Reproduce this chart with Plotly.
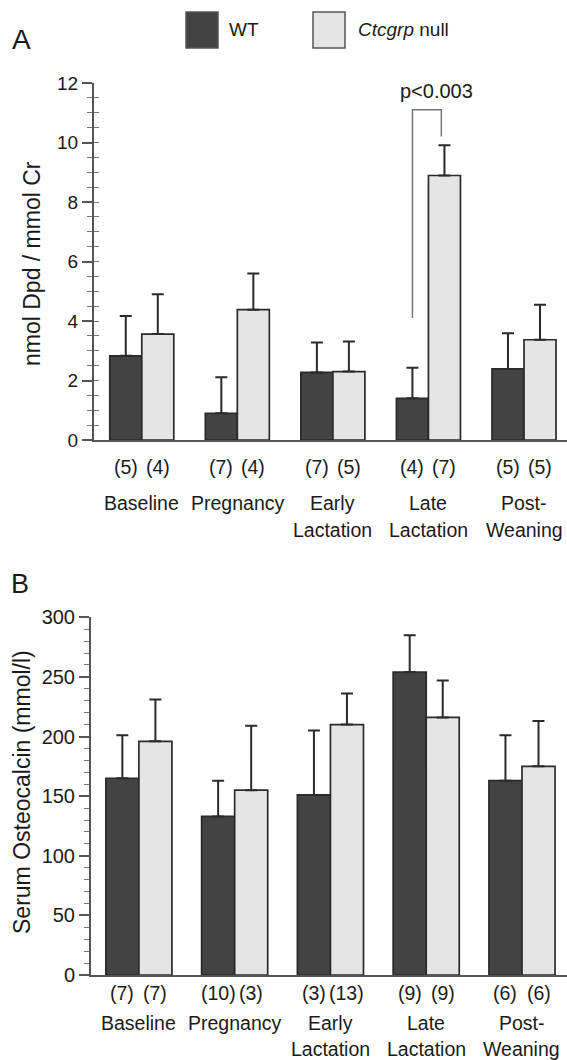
import plotly.graph_objects as go

# ---------------- data ----------------
categories = ["Baseline", "Pregnancy", "Early<br>Lactation", "Late<br>Lactation", "Post-<br>Weaning"]

# Panel A: urinary Dpd (nmol Dpd / mmol Cr)
dpd_wt = [2.83, 0.90, 2.27, 1.40, 2.39]
dpd_wt_err = [1.34, 1.21, 1.01, 1.03, 1.20]
dpd_null = [3.56, 4.38, 2.30, 8.89, 3.37]
dpd_null_err = [1.34, 1.22, 1.01, 1.02, 1.18]
dpd_n_wt = ["(5)", "(7)", "(7)", "(4)", "(5)"]
dpd_n_null = ["(4)", "(4)", "(5)", "(7)", "(5)"]

# Panel B: serum osteocalcin (mmol/l)
ocn_wt = [165, 133, 151, 254, 163]
ocn_wt_err = [36, 30, 54, 31, 38]
ocn_null = [196, 155, 210, 216, 175]
ocn_null_err = [35, 54, 26, 31, 38]
ocn_n_wt = ["(7)", "(10)", "(3)", "(9)", "(6)"]
ocn_n_null = ["(7)", "(3)", "(13)", "(9)", "(6)"]

series_names = ["WT", "<i>Ctcgrp</i> null"]
p_label = "p<0.003"

# ---------------- style ----------------
W, H = 567, 1060
FONT = "Liberation Sans, Arial, Helvetica, sans-serif"
WT_COLOR = "#434343"
NULL_COLOR = "#e5e5e5"
EDGE = "#2a2a2a"
AXIS = "#555555"
TXT = "#1a1a1a"


def px_x(px):
    return px / W


def px_y(py):
    return 1 - py / H


idx = list(range(len(categories)))
bw_a = 0.335
bw_b = 0.345

fig = go.Figure()


def add_pair(xa, ya, wt, wte, nu, nue, bw):
    fig.add_trace(go.Bar(
        x=idx, y=wt, width=bw, offset=-bw, xaxis=xa, yaxis=ya,
        marker=dict(color=WT_COLOR, line=dict(color=EDGE, width=1.7)),
        error_y=dict(type="data", array=wte, arrayminus=[0] * len(wt), symmetric=False,
                     color="#2a2a2a", thickness=2, width=6),
        showlegend=False, name="WT"))
    fig.add_trace(go.Bar(
        x=idx, y=nu, width=bw, offset=0, xaxis=xa, yaxis=ya,
        marker=dict(color=NULL_COLOR, line=dict(color=EDGE, width=1.7)),
        error_y=dict(type="data", array=nue, arrayminus=[0] * len(nu), symmetric=False,
                     color="#2a2a2a", thickness=2, width=6),
        showlegend=False, name="Ctcgrp null"))


add_pair("x", "y", dpd_wt, dpd_wt_err, dpd_null, dpd_null_err, bw_a)
add_pair("x2", "y2", ocn_wt, ocn_wt_err, ocn_null, ocn_null_err, bw_b)
# invisible helper trace for the overlay axis carrying crossing minor ticks
fig.add_trace(go.Scatter(x=[None], y=[None], xaxis="x", yaxis="y3", showlegend=False,
                         hoverinfo="skip"))

common_x = dict(showline=True, linecolor=AXIS, linewidth=2, ticks="", showticklabels=False,
                showgrid=False, zeroline=False, fixedrange=True)
common_y = dict(showline=True, linecolor=AXIS, linewidth=2, ticks="outside", ticklen=10,
                tickwidth=1.5, tickcolor=AXIS, showgrid=False, zeroline=False,
                tickfont=dict(family=FONT, size=19, color=TXT), fixedrange=True)

fig.update_layout(
    width=W, height=H,
    margin=dict(l=0, r=0, t=0, b=0, autoexpand=False),
    plot_bgcolor="white", paper_bgcolor="white",
    font=dict(family=FONT, color=TXT),
    showlegend=False,
    xaxis=dict(domain=[px_x(94), 1.0], range=[-0.5, 4.45], anchor="y", **common_x),
    yaxis=dict(domain=[px_y(440), px_y(83)], range=[0, 12], dtick=2, tick0=0, anchor="x",
               minor=dict(dtick=0.5, ticks="outside", ticklen=5, tickwidth=1.3, tickcolor="#777"),
               **common_y),
    yaxis3=dict(overlaying="y", range=[0, 12], dtick=0.5, tick0=0, ticks="inside", ticklen=5,
                tickwidth=1.3, tickcolor="#777", showticklabels=False, showline=False,
                showgrid=False, zeroline=False, anchor="x", fixedrange=True),
    xaxis2=dict(domain=[px_x(91), 1.0], range=[-0.5, 4.47], anchor="y2", **common_x),
    yaxis2=dict(domain=[px_y(975), px_y(617.3)], range=[0, 300], dtick=50, tick0=0, anchor="x2",
                minor=dict(dtick=10, ticks="outside", ticklen=5, tickwidth=1.3, tickcolor="#777"),
                **{**common_y, "tickfont": dict(family=FONT, size=20, color=TXT)}),
)

ann = []
# count labels and category labels
for xa, nw, nn, bw, y_cnt, y_l1, y_l2, fs in [
    ("x", dpd_n_wt, dpd_n_null, bw_a, 467, 503, 530, 19.5),
    ("x2", ocn_n_wt, ocn_n_null, bw_b, 993, 1023, 1049, 19.5),
]:
    for i in idx:
        ann.append(dict(x=i - bw / 2, y=px_y(y_cnt), xref=xa, yref="paper", text=nw[i],
                        showarrow=False, font=dict(size=fs), xanchor="center", yanchor="middle"))
        ann.append(dict(x=i + bw / 2, y=px_y(y_cnt), xref=xa, yref="paper", text=nn[i],
                        showarrow=False, font=dict(size=fs), xanchor="center", yanchor="middle"))
        lines = categories[i].split("<br>")
        for line, yy in zip(lines, [y_l1, y_l2]):
            ann.append(dict(x=i, y=px_y(yy), xref=xa, yref="paper", text=line,
                            showarrow=False, font=dict(size=fs), xanchor="center",
                            yanchor="middle"))

# axis titles
ann.append(dict(x=px_x(32), y=px_y(264), xref="paper", yref="paper", text="nmol Dpd / mmol Cr",
                textangle=-90, showarrow=False, font=dict(size=23), xanchor="center",
                yanchor="middle"))
ann.append(dict(x=px_x(22), y=px_y(792), xref="paper", yref="paper",
                text="Serum Osteocalcin (mmol/l)", textangle=-90, showarrow=False,
                font=dict(size=23), xanchor="center", yanchor="middle"))
# panel letters
ann.append(dict(x=px_x(21), y=px_y(40), xref="paper", yref="paper", text="A", showarrow=False,
                font=dict(size=28), xanchor="center", yanchor="middle"))
ann.append(dict(x=px_x(20), y=px_y(584), xref="paper", yref="paper", text="B", showarrow=False,
                font=dict(size=27), xanchor="center", yanchor="middle"))
# legend texts
ann.append(dict(x=px_x(227), y=px_y(30), xref="paper", yref="paper", text=series_names[0],
                showarrow=False, font=dict(size=19), xanchor="left", yanchor="middle"))
ann.append(dict(x=px_x(356), y=px_y(30), xref="paper", yref="paper", text=series_names[1],
                showarrow=False, font=dict(size=19), xanchor="left", yanchor="middle"))
# significance label
ann.append(dict(x=3.087, y=11.72, xref="x", yref="y", text=p_label, showarrow=False,
                font=dict(size=20), xanchor="center", yanchor="middle"))
fig.update_layout(annotations=ann)

shapes = [
    # legend boxes
    dict(type="rect", xref="paper", yref="paper", x0=px_x(186), x1=px_x(218), y0=px_y(48),
         y1=px_y(12), fillcolor=WT_COLOR, line=dict(color="#555", width=1.5)),
    dict(type="rect", xref="paper", yref="paper", x0=px_x(313), x1=px_x(345), y0=px_y(48),
         y1=px_y(12), fillcolor=NULL_COLOR, line=dict(color="#555", width=1.5)),
    # significance bracket
    dict(type="path", xref="x", yref="y",
         path=f"M {3 - bw_a / 2},4.1 L {3 - bw_a / 2},11.1 L 3.135,11.1 L 3.135,10.2",
         line=dict(color="#777", width=1.5)),
]
fig.update_layout(shapes=shapes)

fig.write_html("out.html", config={"displayModeBar": False},
               post_script="document.body.style.margin='0';")
